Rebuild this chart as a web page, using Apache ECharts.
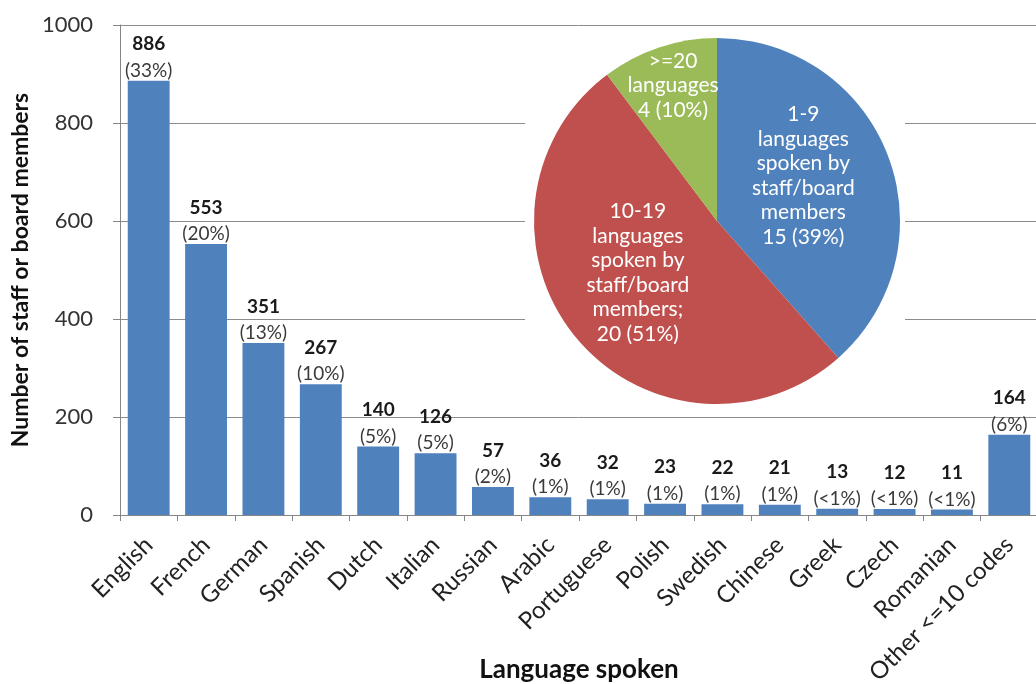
<!DOCTYPE html>
<html>
<head>
<meta charset="utf-8">
<script src="https://cdn.jsdelivr.net/npm/echarts@6/dist/echarts.min.js"></script>
<style>
  html, body { margin: 0; padding: 0; background: #fff; }
  #main { width: 1036px; height: 684px; }
</style>
</head>
<body>
<div id="main"></div>
<script>
// data
var languages = ['English', 'French', 'German', 'Spanish', 'Dutch', 'Italian', 'Russian', 'Arabic',
  'Portuguese', 'Polish', 'Swedish', 'Chinese', 'Greek', 'Czech', 'Romanian', 'Other <=10 codes'];
var speakers = [886, 553, 351, 267, 140, 126, 57, 36, 32, 23, 22, 21, 13, 12, 11, 164];
var shares = ['33%', '20%', '13%', '10%', '5%', '5%', '2%', '1%', '1%', '1%', '1%', '1%', '<1%', '<1%', '<1%', '6%'];

var groupNames = ['1-9\nlanguages\nspoken by\nstaff/board\nmembers\n',
  '10-19\nlanguages\nspoken by\nstaff/board\nmembers;\n',
  '>=20\nlanguages\n'];
var groupCounts = [15, 20, 4];
var groupShares = ['39%', '51%', '10%'];

var yTicks = [0, 200, 400, 600, 800, 1000];

var font = 'Lato, "Open Sans", sans-serif';

var myChart = echarts.init(document.getElementById('main'));

var option = {
  animation: false,
  textStyle: { fontFamily: font },
  // white box behind the pie, cuts the gridlines like the original
  graphic: [{
    type: 'rect',
    z: 1,
    shape: { x: 525, y: 30, width: 380, height: 380 },
    style: { fill: '#fff' }
  }],
  grid: { left: 120, right: -2, top: 25, bottom: 169, containLabel: false, outerBoundsMode: 'none' },
  xAxis: {
    type: 'category',
    data: languages,
    name: 'Language spoken',
    nameLocation: 'middle',
    nameGap: 142,
    nameMoveOverlap: false,
    nameTextStyle: { fontSize: 26, fontWeight: 'bold', color: '#111', fontFamily: font },
    axisLine: { lineStyle: { color: '#868686' } },
    axisTick: { show: true, alignWithLabel: false, length: 6, lineStyle: { color: '#868686' } },
    axisLabel: { rotate: 45, fontSize: 24, color: '#222', margin: 26, interval: 0 }
  },
  yAxis: {
    type: 'value',
    min: yTicks[0],
    max: yTicks[yTicks.length - 1],
    interval: 200,
    name: 'Number of staff or board members',
    nameLocation: 'middle',
    nameGap: 88,
    nameMoveOverlap: false,
    nameTextStyle: { fontSize: 23, fontWeight: 'bold', color: '#111', fontFamily: font },
    axisLine: { show: true, lineStyle: { color: '#868686' } },
    axisTick: { show: true, length: 7, lineStyle: { color: '#868686' } },
    axisLabel: {
      fontSize: 22, color: '#333', margin: 27,
      formatter: function (v) { return String(v); }
    },
    splitLine: { lineStyle: { color: '#8c8c8c', width: 1 } }
  },
  series: [
    {
      name: 'Language spoken',
      type: 'bar',
      data: speakers,
      barCategoryGap: '27%',
      itemStyle: { color: '#4F81BD' },
      label: {
        show: true,
        position: 'top',
        distance: 0,
        formatter: function (p) {
          return '{n|' + p.value + '}\n{p|(' + shares[p.dataIndex] + ')}';
        },
        rich: {
          n: { fontSize: 19, fontWeight: 'bold', color: '#1a1a1a', lineHeight: 33, fontFamily: font },
          p: { fontSize: 19, color: '#3a3a3a', lineHeight: 20, fontFamily: font }
        }
      }
    },
    {
      name: 'Languages per organisation',
      type: 'pie',
      z: 3,
      center: [717, 221],
      radius: 183,
      startAngle: 90,
      clockwise: true,
      data: groupCounts.map(function (v, i) {
        return { name: groupNames[i], value: v };
      }),
      color: ['#4F81BD', '#C0504D', '#9BBB59'],
      itemStyle: { borderWidth: 0 },
      label: {
        show: true,
        position: 'inside',
        color: '#fff',
        fontSize: 21,
        lineHeight: 24.5,
        fontFamily: font,
        formatter: function (p) {
          return p.name + p.value + ' (' + groupShares[p.dataIndex] + ')';
        }
      },
      labelLayout: function (p) {
        if (p.dataIndex === 2) return { dx: -14, dy: -46 };
        if (p.dataIndex === 0) return { dx: -2, dy: -12 };
        if (p.dataIndex === 1) return { dx: -6, dy: -8 };
      },
      labelLine: { show: false }
    }
  ]
};

myChart.setOption(option);
</script>
</body>
</html>
